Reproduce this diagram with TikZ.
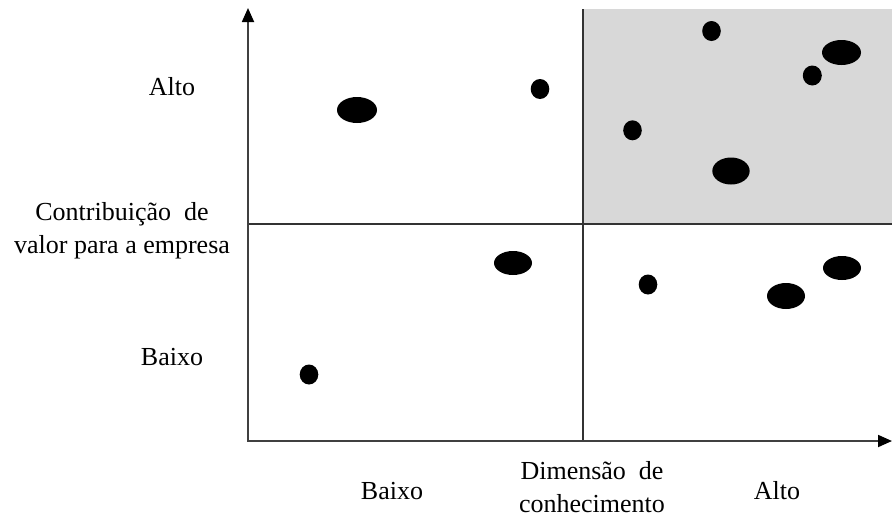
\documentclass[tikz,border=0pt]{standalone}
\usepackage{fontspec}
\setmainfont{Liberation Serif}
\usetikzlibrary{arrows.meta,shapes.geometric}
\begin{document}
\begin{tikzpicture}[x=1pt,y=-1pt,
  axis/.style={line width=1.8pt,draw=black!75,-{Triangle[length=14pt,width=12pt,color=black]}},
  divider/.style={line width=1.5pt,draw=black!80},
  lbl/.style={font=\fontsize{26}{33}\selectfont,align=center,inner sep=0pt},
  dot/.style={ellipse,fill=black,inner sep=0pt,minimum width=#1*2pt},
]
\useasboundingbox (0,0) rectangle (892,520);
\fill[fill={rgb,255:red,216;green,216;blue,216}] (583,9) rectangle (892,224);
\coordinate (O) at (248,441);
\coordinate (ytop) at (248,8);
\coordinate (xend) at (892,441);
\coordinate (vtop) at (583,9);
\coordinate (vbot) at (583,441);
\coordinate (hl) at (248,224);
\coordinate (hr) at (892,224);
\draw[divider] (vtop) -- (vbot);
\draw[divider] (hl) -- (hr);
\draw[axis] (O) -- (ytop);
\draw[axis] ([xshift=-1pt]O) -- (xend);
% dots
\node[dot=9.3,minimum height=20pt] (d1) at (711.5,31) {};
\node[dot=19.5,minimum height=25pt] (d2) at (841.5,52.5) {};
\node[dot=9.5,minimum height=20pt] (d3) at (812.3,75.5) {};
\node[dot=9.3,minimum height=20pt] (d4) at (632.5,130.3) {};
\node[dot=18.7,minimum height=27pt] (d5) at (731,171) {};
\node[dot=9.3,minimum height=20pt] (d6) at (540,89) {};
\node[dot=20,minimum height=26pt] (d7) at (357,110) {};
\node[dot=19,minimum height=24pt] (d8) at (513,263) {};
\node[dot=9.3,minimum height=20pt] (d9) at (648,284.5) {};
\node[dot=19,minimum height=24pt] (d10) at (842,268) {};
\node[dot=19,minimum height=26pt] (d11) at (786,296) {};
\node[dot=9.3,minimum height=20pt] (d12) at (309,374.5) {};
% labels
\node[lbl] (altoy) at (172,87) {Alto};
\node[lbl] (contrib) at (122,231) {Contribuição\ \ de\\valor\ para a empresa};
\node[lbl] (baixoy) at (172,357) {Baixo};
\node[lbl] (baixox) at (392,491) {Baixo};
\node[lbl] (dim) at (592,487) {Dimensão\ \ de\\conhecimento};
\node[lbl] (altox) at (777,491) {Alto};
\end{tikzpicture}
\end{document}
